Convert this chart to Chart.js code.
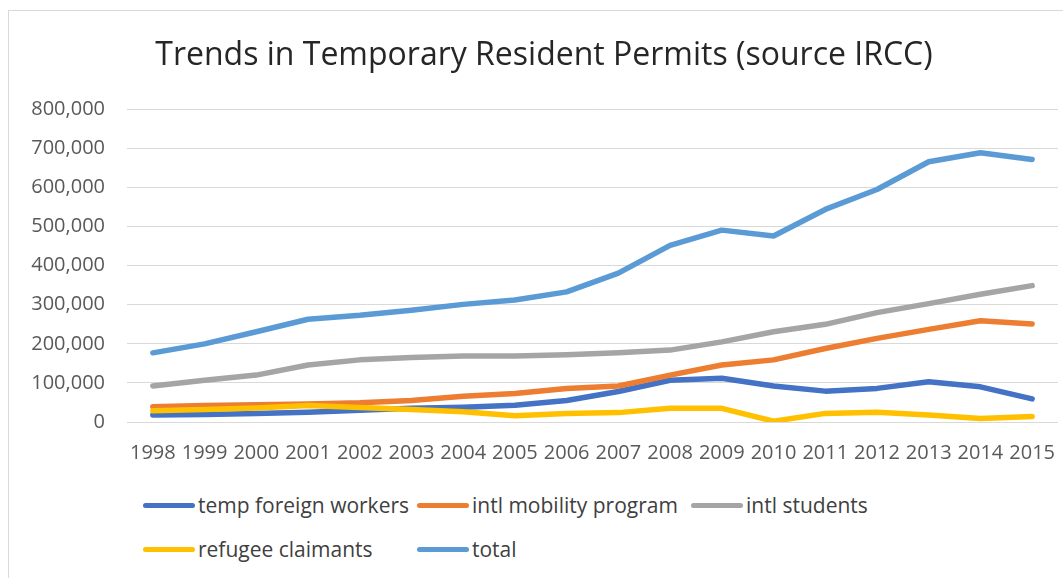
<!DOCTYPE html>
<html lang="en">
<head>
  <meta charset="UTF-8" />
  <title>Trends in Temporary Resident Permits</title>
  <script src="https://cdn.jsdelivr.net/npm/chart.js"></script>
  <style>
    body { margin: 0; background: #fff; font-family: "Open Sans", sans-serif; overflow: hidden; }
    #quadro {
      position: absolute; left: 8px; top: 10px; width: 1070px; height: 580px;
      border: 1px solid #d9d9d9; box-sizing: border-box;
    }
    #div_canva { position: absolute; left: 0; top: 0; width: 1063px; height: 488px; }
    #legenda {
      position: absolute; left: 143px; top: 490px; width: 830px;
      display: flex; flex-wrap: wrap; row-gap: 14px;
      font-size: 21px; color: #404040;
    }
    .item { display: flex; align-items: center; width: 274px; height: 30px; }
    .traco { width: 52px; height: 5px; border-radius: 3px; margin-right: 3px; }
  </style>
</head>
<body>
  <div id="quadro"></div>
  <div id="div_canva"><canvas id="myChart"></canvas></div>
  <div id="legenda"></div>

<script>
  // dados
  const anos = ["1998", "1999", "2000", "2001", "2002", "2003", "2004", "2005", "2006",
    "2007", "2008", "2009", "2010", "2011", "2012", "2013", "2014", "2015"];
  const tempForeignWorkers = [18000, 19000, 22000, 25000, 30000, 35000, 38000, 43000, 55000,
    78000, 107000, 112000, 92000, 79000, 86000, 103000, 90000, 59000];
  const intlMobility = [39000, 42000, 44000, 46000, 49000, 55000, 66000, 73000, 86000,
    92000, 120000, 146000, 159000, 188000, 214000, 237000, 259000, 251000];
  const intlStudents = [92000, 107000, 120000, 146000, 159000, 165000, 169000, 169000, 172000,
    177000, 184000, 205000, 231000, 250000, 280000, 303000, 327000, 349000];
  const refugeeClaimants = [29000, 32000, 36000, 42000, 37000, 32000, 26000, 16000, 22000,
    24000, 35000, 35000, 2000, 22000, 25000, 18000, 9000, 14000];
  const total = [177000, 200000, 231000, 263000, 273000, 286000, 301000, 312000, 333000,
    381000, 452000, 491000, 476000, 544000, 595000, 666000, 689000, 672000];

  const ctx = document.getElementById("myChart").getContext('2d');

  // ordem: o ultimo do Excel fica por cima
  const series = [
    { label: "temp foreign workers", data: tempForeignWorkers, cor: '#4472C4', order: 5 },
    { label: "intl mobility program", data: intlMobility, cor: '#ED7D31', order: 4 },
    { label: "intl students", data: intlStudents, cor: '#A5A5A5', order: 3 },
    { label: "refugee claimants", data: refugeeClaimants, cor: '#FFC000', order: 2 },
    { label: "total", data: total, cor: '#5B9BD5', order: 1 },
  ];

  new Chart(ctx, {
    type: "line",
    data: {
      labels: anos,
      datasets: series.map(s => ({
        label: s.label,
        data: s.data,
        borderColor: s.cor,
        backgroundColor: s.cor,
        borderWidth: 5.5,
        pointRadius: 0,
        tension: 0,
        borderCapStyle: 'round',
        borderJoinStyle: 'round',
        order: s.order
      }))
    },
    options: {
      responsive: true,
      maintainAspectRatio: false,
      animation: false,
      layout: { padding: { top: 20, left: 30, right: 5, bottom: 4 } },
      scales: {
        y: {
          min: 0,
          max: 800000,
          afterFit: (scale) => { scale.width = 97; },
          ticks: {
            stepSize: 100000,
            padding: 22,
            color: '#595959',
            font: { family: 'Open Sans', size: 20 }
          },
          grid: { color: '#d9d9d9', drawTicks: false, lineWidth: 1 },
          border: { display: false }
        },
        x: {
          offset: true,
          // nao deixar o rotulo 2015 encolher a area do grafico
          afterFit: (scale) => { scale.paddingLeft = 0; scale.paddingRight = 0; },
          ticks: {
            autoSkip: false,
            maxRotation: 0,
            padding: 19,
            color: '#595959',
            font: { family: 'Open Sans', size: 20 }
          },
          grid: { display: false, drawTicks: false, offset: true },
          border: { display: false }
        }
      },
      plugins: {
        legend: { display: false },
        tooltip: { enabled: false },
        title: {
          display: true,
          text: "Trends in Temporary Resident Permits (source IRCC)",
          color: '#262626',
          font: { family: 'Open Sans', size: 32, weight: 'normal' },
          padding: { top: 17, bottom: 34 }
        }
      }
    }
  });

  // legenda em html, em colunas como no original
  const legenda = document.getElementById("legenda");
  series.forEach(s => {
    const item = document.createElement("div");
    item.className = "item";
    item.innerHTML = '<span class="traco" style="background:' + s.cor + '"></span><span>' + s.label + '</span>';
    legenda.appendChild(item);
  });
</script>
</body>
</html>
